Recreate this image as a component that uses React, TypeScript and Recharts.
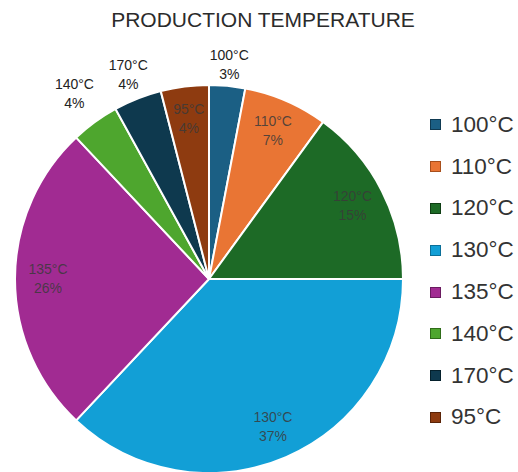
import { PieChart, Pie, Cell, Legend } from "recharts";

const temps = ["100°C", "110°C", "120°C", "130°C", "135°C", "140°C", "170°C", "95°C"];
const shares = [3, 7, 15, 37, 26, 4, 4, 4];
const colors = ["#1b5f84", "#e97534", "#1d6a26", "#129fd6", "#a12b92", "#4ea62e", "#0e394e", "#8e3b10"];
const borders = ["#0f3a52", "#a84f1c", "#0e3d13", "#0b6f98", "#6a1b60", "#2f6c19", "#04202c", "#5a2307"];

const data = temps.map((name, i) => ({ name, value: shares[i] }));

// labels for the thin slices near the top sit outside the pie
const labelRadius: Record<string, number> = {
  "100°C": 1.11,
  "140°C": 1.18,
  "170°C": 1.13,
};
const RAD = Math.PI / 180;

function SliceLabel(props: any) {
  const { cx, cy, midAngle, outerRadius, name, value } = props;
  const outside = name in labelRadius;
  const r = outerRadius * (labelRadius[name] ?? 0.83);
  const x = cx + r * Math.cos(-midAngle * RAD);
  const y = cy + r * Math.sin(-midAngle * RAD);
  return (
    <text
      x={x}
      y={y}
      textAnchor="middle"
      fontSize={14}
      fontFamily="'Liberation Sans', Arial, sans-serif"
      fill={outside ? "#222" : "#3a3a3a"}
      fillOpacity={outside ? 1 : 0.85}
    >
      <tspan x={x} dy={-5}>{name}</tspan>
      <tspan x={x} dy={19}>{value}%</tspan>
    </text>
  );
}

function LegendList() {
  return (
    <ul style={{ listStyle: "none", margin: 0, padding: 0 }}>
      {temps.map((t, i) => (
        <li key={t} style={{ display: "flex", alignItems: "center", height: 41.8 }}>
          <span
            style={{
              width: 9,
              height: 9,
              background: colors[i],
              border: `1px solid ${borders[i]}`,
              marginRight: 10,
            }}
          />
          <span
            style={{
              fontFamily: "'Liberation Sans', Arial, sans-serif",
              fontSize: 22.5,
              color: "#333",
            }}
          >
            {t}
          </span>
        </li>
      ))}
    </ul>
  );
}

export default function App() {
  return (
    <div
      style={{
        position: "absolute",
        left: 0,
        top: 0,
        width: 518,
        height: 472,
        background: "#fff",
        overflow: "hidden",
      }}
    >
      <div
        style={{
          position: "absolute",
          top: 8,
          left: 0,
          width: 526,
          textAlign: "center",
          fontFamily: "'Liberation Sans', Arial, sans-serif",
          fontSize: 21,
          color: "#2b2b2b",
        }}
      >
        PRODUCTION TEMPERATURE
      </div>
      <PieChart width={518} height={472} margin={{ top: 0, right: 0, bottom: 0, left: 0 }}>
        <Pie
          data={data}
          dataKey="value"
          nameKey="name"
          cx={209}
          cy={279}
          outerRadius={194}
          startAngle={90}
          endAngle={-270}
          stroke="#fff"
          strokeWidth={2}
          label={SliceLabel}
          labelLine={false}
          isAnimationActive={false}
        >
          {data.map((d, i) => (
            <Cell key={d.name} fill={colors[i]} />
          ))}
        </Pie>
        <Legend
          layout="vertical"
          content={() => <LegendList />}
          wrapperStyle={{ position: "absolute", left: 430, top: 104, width: 90 }}
        />
      </PieChart>
    </div>
  );
}
